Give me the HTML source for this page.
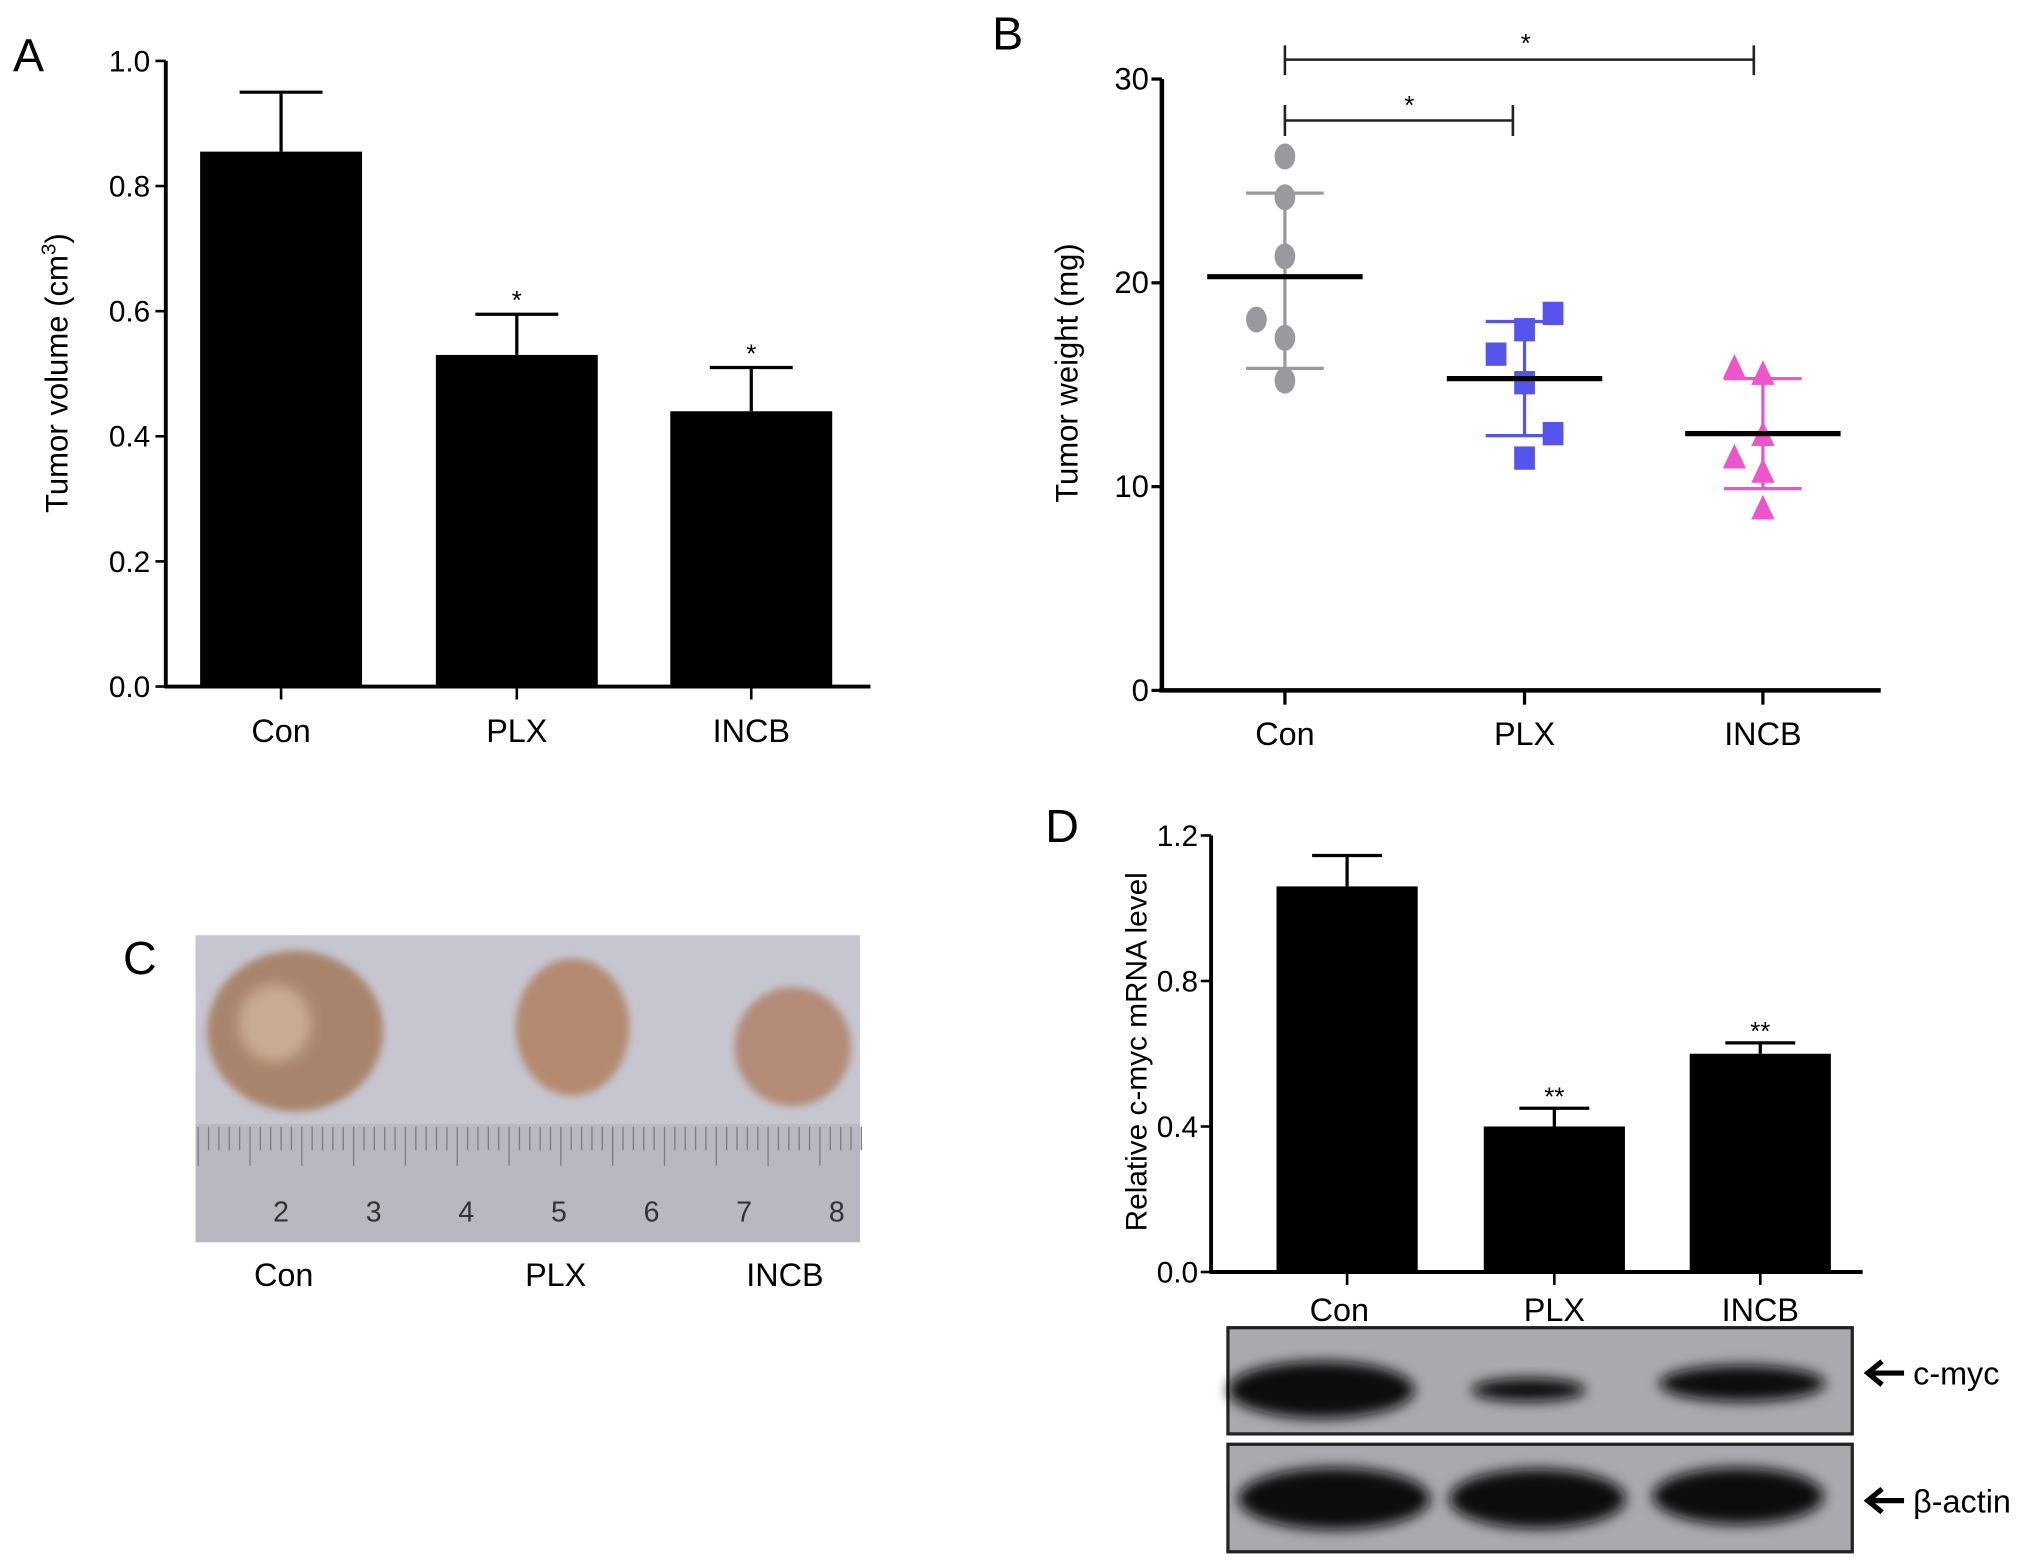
<!DOCTYPE html>
<html><head><meta charset="utf-8"><style>
html,body{margin:0;padding:0;background:#fff;}
svg{display:block;font-family:"Liberation Sans",sans-serif;}
</style></head><body>
<svg id="fig" width="2031" height="1568" viewBox="0 0 1568 1210.5" xmlns="http://www.w3.org/2000/svg">
<defs>
<filter id="blur" x="-30%" y="-50%" width="160%" height="200%"><feGaussianBlur stdDeviation="5"/></filter>
<filter id="blur2"><feGaussianBlur stdDeviation="3"/></filter>
</defs>
<g id="gA"></g>
<g id="gB"></g>
<g id="gC"></g>
<g id="gD"></g>
</svg>
<script>
// Panel A data
const aCats = ["Con","PLX","INCB"];
const aMeans = [0.855, 0.53, 0.44];
const aErr = [0.095, 0.065, 0.07];
const aStars = ["", "*", "*"];
const aTicks = [0.0,0.2,0.4,0.6,0.8,1.0];
// Panel B data
const bCats = ["Con","PLX","INCB"];
const bCon = [26.2,24.2,21.3,18.2,17.3,15.2];
const bPlx = [18.5,17.7,16.5,15.1,12.6,11.4];
const bIncb = [15.8,15.5,12.5,11.4,10.7,8.9];
const bMeans = [20.3,15.3,12.6];
const bSdHi = [24.4,18.1,15.3];
const bSdLo = [15.8,12.5,9.9];
const bTicks = [0,10,20,30];
// Panel D data
const dCats = ["Con","PLX","INCB"];
const dMeans = [1.06,0.40,0.60];
const dErr = [0.085,0.05,0.03];
const dStars = ["","**","**"];
const dTicks = [0.0,0.4,0.8,1.2];

const NS="http://www.w3.org/2000/svg";
function mk(parent,tag,attrs,text){const e=document.createElementNS(NS,tag);for(const k in attrs)e.setAttribute(k,attrs[k]);if(text!==undefined)e.textContent=text;parent.appendChild(e);return e;}

// ---------- Panel A ----------
(function(){
const g=document.getElementById('gA');
const y0=530,y1=47,ax=128;
const ys=v=>y0-(v/1.0)*(y0-y1);
const xc=[217,399,580], bw=125;
let t=mk(g,'text',{x:10,y:55,'font-size':36},'A');


let l=mk(g,'line',{x1:ax,y1:y1,x2:ax,y2:y0+1,stroke:'#000','stroke-width':3});


l=mk(g,'line',{x1:ax-1,y1:y0,x2:672,y2:y0,stroke:'#000','stroke-width':3});


aTicks.forEach(v=>{
 const tk=mk(g,'line',{x1:ax-8,y1:ys(v),x2:ax,y2:ys(v),stroke:'#000','stroke-width':2});
 
 
 const tl=mk(g,'text',{x:ax-12,y:ys(v)+8,'font-size':23,'text-anchor':'end'},v.toFixed(1));
 
 
});
aCats.forEach((c,i)=>{
 const top=ys(aMeans[i]), et=ys(aMeans[i]+aErr[i]);
 const r=mk(g,'rect',{x:xc[i]-bw/2,y:top,width:bw,height:y0-top,fill:'#000'});
 
 
 const e=mk(g,'path',{d:`M${xc[i]},${top} V${et} M${xc[i]-32},${et} H${xc[i]+32}`,stroke:'#000','stroke-width':2.5,fill:'none'});
 
 
 const tk=mk(g,'line',{x1:xc[i],y1:y0,x2:xc[i],y2:y0+10,stroke:'#000','stroke-width':2});
 
 
 const lb=mk(g,'text',{x:xc[i],y:573,'font-size':25,'text-anchor':'middle'},c);
 
 
 if(aStars[i]){const s=mk(g,'text',{x:xc[i],y:et-4,'font-size':20,'text-anchor':'middle'},aStars[i]);
 
 }
});
t=mk(g,'text',{x:0,y:0,'font-size':24,'text-anchor':'middle',transform:'translate(52,288) rotate(-90)'});
t.innerHTML='Tumor volume (cm<tspan dy="-9" font-size="16">3</tspan><tspan dy="9">)</tspan>';


})();

// ---------- Panel B ----------
(function(){
const g=document.getElementById('gB');
const y0=533,y1=61,ax=897;
const ys=v=>y0-(v/30)*(y0-y1);
const xc=[992,1177,1361];
let t=mk(g,'text',{x:766,y:38,'font-size':36},'B');


let l=mk(g,'line',{x1:ax,y1:y1,x2:ax,y2:y0+1,stroke:'#000','stroke-width':3.5});


l=mk(g,'line',{x1:ax-2,y1:y0,x2:1452,y2:y0,stroke:'#000','stroke-width':3.5});


bTicks.forEach(v=>{
 const tk=mk(g,'line',{x1:ax-8,y1:ys(v),x2:ax,y2:ys(v),stroke:'#000','stroke-width':2.5});
 
 
 const tl=mk(g,'text',{x:ax-10,y:ys(v)+8,'font-size':24,'text-anchor':'end'},String(v));
 
 
});
const cols=['#9a9a9e','#5555ee','#ee55cc'];
const series=[bCon,bPlx,bIncb];
const offs=[[0,0,0,-22,0,0],[22,0,-22,0,22,0],[-22,0,0,-22,0,0]];
bCats.forEach((c,i)=>{
 const x=xc[i];
 const sd=mk(g,'path',{d:`M${x},${ys(bSdHi[i])} V${ys(bSdLo[i])} M${x-30},${ys(bSdHi[i])} H${x+30} M${x-30},${ys(bSdLo[i])} H${x+30}`,stroke:cols[i],'stroke-width':2.5,fill:'none'});
 
 
 series[i].forEach((v,j)=>{
  const px=x+offs[i][j], py=ys(v);
  let m;
  if(i===0) m=mk(g,'ellipse',{cx:px,cy:py,rx:8,ry:10,fill:cols[i]});
  else if(i===1) m=mk(g,'rect',{x:px-8,y:py-9,width:16,height:18,fill:cols[i]});
  else m=mk(g,'polygon',{points:`${px},${py-11} ${px-9},${py+8} ${px+9},${py+8}`,fill:cols[i]});
  
  
 });
 const mn=mk(g,'line',{x1:x-60,y1:ys(bMeans[i]),x2:x+60,y2:ys(bMeans[i]),stroke:'#000','stroke-width':4});
 
 
 const tk=mk(g,'line',{x1:x,y1:y0,x2:x,y2:y0+11,stroke:'#000','stroke-width':2.5});
 
 
 const lb=mk(g,'text',{x:x,y:575,'font-size':25,'text-anchor':'middle'},c);
 
 
});
let br=mk(g,'path',{d:'M992,35 V58 M992,46 H1354 M1354,35 V58',stroke:'#222','stroke-width':2,fill:'none'});


br=mk(g,'path',{d:'M992,81 V105 M992,93 H1168 M1168,81 V105',stroke:'#222','stroke-width':2,fill:'none'});


let s=mk(g,'text',{x:1178,y:40,'font-size':20,'text-anchor':'middle'},'*');


s=mk(g,'text',{x:1088,y:88,'font-size':20,'text-anchor':'middle'},'*');


t=mk(g,'text',{x:0,y:0,'font-size':24,'text-anchor':'middle',transform:'translate(832,288) rotate(-90)'},'Tumor weight (mg)');


})();

// ---------- Panel C ----------
(function(){
const g=document.getElementById('gC');
let t=mk(g,'text',{x:95,y:752,'font-size':36},'C');


let r=mk(g,'rect',{x:151,y:722,width:513,height:237,fill:'#c6c6d0'});


r=mk(g,'rect',{x:151,y:868,width:513,height:91,fill:'#b8b8c0'});


for(let k=0;k<=64;k++){const x=153+k*8;const h=(k%5===0)?30:18;
 const tk=mk(g,'line',{x1:x,y1:870,x2:x,y2:870+h,stroke:'#7a7a82','stroke-width':1});
 
 }
[2,3,4,5,6,7,8].forEach((n,k)=>{const nt=mk(g,'text',{x:217+k*71.5,y:943,'font-size':22,'text-anchor':'middle',fill:'#333'},String(n));
 
 });
const tum=[[228,796,68,62,'#a9846c'],[442,793,44,53,'#b38a70'],[612,808,45,46,'#b48c78']];
['con','plx','incb'].forEach((n,i)=>{const [cx,cy,rx,ry,f]=tum[i];
 const e=mk(g,'ellipse',{cx:cx,cy:cy,rx:rx,ry:ry,fill:f,filter:'url(#blur2)'});
 
 });
const hl=mk(g,'ellipse',{cx:212,cy:790,rx:28,ry:30,fill:'#c8ab95',filter:'url(#blur)'});


[['Con',219],['PLX',429],['INCB',606]].forEach(([c,x])=>{const lb=mk(g,'text',{x:x,y:993,'font-size':25,'text-anchor':'middle'},c);
 
 });
})();

// ---------- Panel D ----------
(function(){
const g=document.getElementById('gD');
const y0=982,y1=645,ax=935;
const ys=v=>y0-(v/1.2)*(y0-y1);
const xc=[1040,1200,1359], bw=109;
let t=mk(g,'text',{x:807,y:650,'font-size':36},'D');


let l=mk(g,'line',{x1:ax,y1:y1,x2:ax,y2:y0+1,stroke:'#000','stroke-width':3});


l=mk(g,'line',{x1:ax-1,y1:y0,x2:1438,y2:y0,stroke:'#000','stroke-width':3});


dTicks.forEach(v=>{
 const tk=mk(g,'line',{x1:ax-8,y1:ys(v),x2:ax,y2:ys(v),stroke:'#000','stroke-width':2});
 
 
 const tl=mk(g,'text',{x:ax-10,y:ys(v)+8,'font-size':23,'text-anchor':'end'},v.toFixed(1));
 
 
});
dCats.forEach((c,i)=>{
 const top=ys(dMeans[i]), et=ys(dMeans[i]+dErr[i]);
 const r=mk(g,'rect',{x:xc[i]-bw/2,y:top,width:bw,height:y0-top,fill:'#000'});
 
 
 const e=mk(g,'path',{d:`M${xc[i]},${top} V${et} M${xc[i]-27},${et} H${xc[i]+27}`,stroke:'#000','stroke-width':2.5,fill:'none'});
 
 
 const tk=mk(g,'line',{x1:xc[i],y1:y0,x2:xc[i],y2:y0+10,stroke:'#000','stroke-width':2});
 
 
 const lb=mk(g,'text',{x:xc[i]-(i===0?6:0),y:1020,'font-size':25,'text-anchor':'middle'},c);
 
 
 if(dStars[i]){const s=mk(g,'text',{x:xc[i],y:et-2,'font-size':20,'text-anchor':'middle'},dStars[i]);
 
 }
});
t=mk(g,'text',{x:0,y:0,'font-size':23,'text-anchor':'middle',transform:'translate(885,812) rotate(-90)'},'Relative c-myc mRNA level');


// western blots
const boxes=[[1025,1107,'c-myc'],[1115,1198,'β-actin']];
const bands=[[[1020,1073,72,22],[1180,1073,44,9],[1345,1068,64,14]],[[1030,1157,74,24],[1187,1157,68,23],[1342,1155,66,22]]];
boxes.forEach(([ya,yb,name],k)=>{
 const r=mk(g,'rect',{x:948,y:ya,width:482,height:yb-ya,fill:'#a9a9ae',stroke:'#222','stroke-width':2.5});
 
 
 bands[k].forEach(([cx,cy,rx,ry])=>{const e=mk(g,'ellipse',{cx:cx,cy:cy,rx:rx,ry:ry,fill:'#0a0a0a',filter:'url(#blur)'});
  
  });
 const ym=(ya+yb)/2+(k?2:-6);
 const ar=mk(g,'path',{d:`M1470,${ym} H1442 M1453,${ym-9} L1442,${ym} L1453,${ym+9}`,stroke:'#000','stroke-width':4,fill:'none'});
 
 
 const lb=mk(g,'text',{x:1477,y:ym+9,'font-size':25},name);
 
 
});
})();
</script>
</body></html>
